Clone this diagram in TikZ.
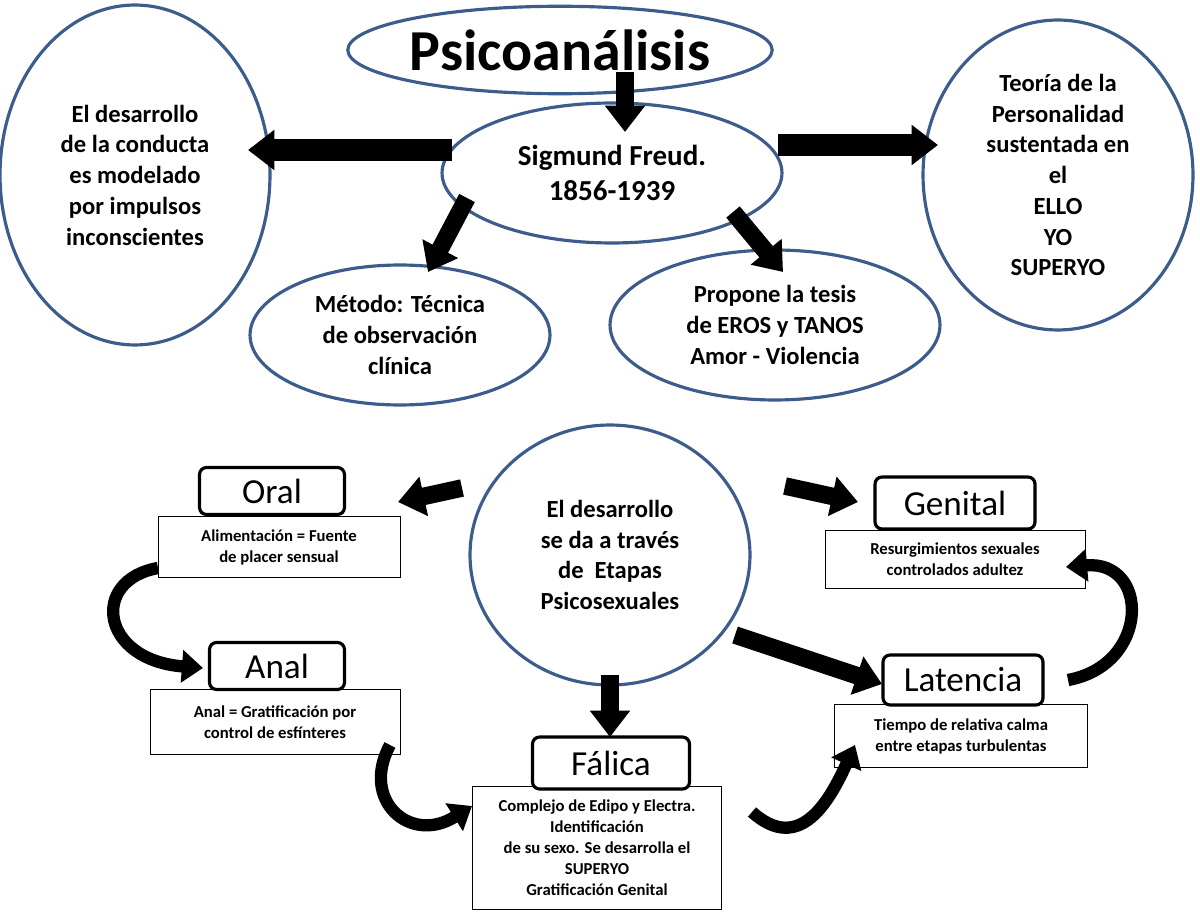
\documentclass[tikz,border=0pt]{standalone}
\usepackage{fontspec}
\setmainfont{Carlito}
\usetikzlibrary{shapes.geometric,arrows.meta}
\definecolor{eb}{RGB}{60,92,140}
\begin{document}
\begin{tikzpicture}[x=0.02cm,y=-0.02cm,
 ell/.style={draw=eb,line width=1.8pt,ellipse,inner sep=0pt,align=center,font=\bfseries\fontsize{14}{17.5}\selectfont},
 ttl/.style={draw,rounded corners=4pt,line width=1.8pt,fill=white,inner sep=0pt,font=\fontsize{20}{22}\selectfont},
 dsc/.style={draw,line width=0.5pt,inner sep=0pt,align=center,font=\bfseries\fontsize{9.5}{12}\selectfont},
 big/.style={line width=10pt,-{Triangle[length=15pt,width=22pt]}},
 crv/.style={line width=7pt,-{Triangle[length=12pt,width=18pt]}}]
\useasboundingbox (0,0) rectangle (1200,915);
\node[ell,minimum width=7.5cm,minimum height=1.75cm,font=\bfseries\fontsize{33}{35}\selectfont] (psi) at (560,50) {Psicoanálisis};
\node[ell,minimum width=6.8cm,minimum height=2.8cm,font=\bfseries\fontsize{16.5}{19.5}\selectfont] (fr) at (612,173) {Sigmund Freud.\\1856-1939};
\node[ell,minimum width=5.4cm,minimum height=6.8cm] (l) at (135,175) {El desarrollo\\de la conducta\\es modelado\\por impulsos\\inconscientes};
\node[ell,minimum width=5.4cm,minimum height=6.2cm] (r) at (1058,175) {Teoría de la\\Personalidad\\sustentada en\\el\\ELLO\\YO\\SUPERYO};
\node[ell,minimum width=6.0cm,minimum height=2.8cm] (m) at (400,335) {Método: Técnica\\de observación\\clínica};
\node[ell,minimum width=6.6cm,minimum height=3.0cm] (p) at (775,325) {Propone la tesis\\de EROS y TANOS\\Amor - Violencia};
\node[ell,minimum width=5.6cm,minimum height=5.2cm] (c) at (610,555) {El desarrollo\\se da a través\\de\ \ Etapas\\Psicosexuales};
% boxes
\node[dsc,minimum width=4.84cm,minimum height=1.22cm] (od) at (279,547) {Alimentación = Fuente\\de placer sensual};
\node[ttl,minimum width=2.9cm,minimum height=0.94cm] (o) at (272,491) {Oral};
\node[dsc,minimum width=5.0cm,minimum height=1.3cm] (ad) at (275,722) {Anal = Gratificación por\\control de esfínteres};
\node[ttl,minimum width=2.7cm,minimum height=0.94cm] (a) at (277,666) {Anal};
\node[dsc,minimum width=4.98cm,minimum height=2.46cm] (fd) at (597,848) {Complejo de Edipo y Electra.\\Identificación\\de su sexo. Se desarrolla el\\SUPERYO\\Gratificación Genital};
\node[ttl,minimum width=3.14cm,minimum height=1.04cm] (f) at (611,763) {Fálica};
\node[dsc,minimum width=5.2cm,minimum height=1.16cm] (gd) at (955,559) {Resurgimientos sexuales\\controlados adultez};
\node[ttl,minimum width=3.2cm,minimum height=1.04cm] (g) at (955,503) {Genital};
\node[dsc,minimum width=5.06cm,minimum height=1.26cm] (ld) at (961,736) {Tiempo de relativa calma\\entre etapas turbulentas};
\node[ttl,minimum width=3.2cm,minimum height=1.0cm] (la) at (963,680) {Latencia};
% coordinates for arrows
\coordinate (a1) at (625,72); \coordinate (a2) at (625,132);
\coordinate (b1) at (452,150); \coordinate (b2) at (248,150);
\coordinate (c1) at (778,145); \coordinate (c2) at (938,145);
\coordinate (d1) at (467,198); \coordinate (d2) at (428,272);
\coordinate (e1) at (733,212); \coordinate (e2) at (783,272);
\coordinate (f1) at (462,488); \coordinate (f2) at (398,502);
\coordinate (g1) at (785,486); \coordinate (g2) at (858,502);
\coordinate (h1) at (735,635); \coordinate (h2) at (882,684);
\coordinate (i1) at (610,675); \coordinate (i2) at (610,737);
\draw[big] (a1)--(a2);
\draw[big,line width=12pt] (b1)--(b2);
\draw[big,line width=12pt] (c1)--(c2);
\draw[big] (d1)--(d2);
\draw[big] (e1)--(e2);
\draw[big] (f1)--(f2);
\draw[big] (g1)--(g2);
\draw[big] (h1)--(h2);
\draw[big] (i1)--(i2);
% curved arrows
\coordinate (k1) at (158,568); \coordinate (k2) at (203,668);
\coordinate (m1) at (390,745); \coordinate (m2) at (472,806);
\coordinate (n1) at (752,812); \coordinate (n2) at (855,745);
\coordinate (q1) at (1068,680); \coordinate (q2) at (1066,567);
\draw[crv] (k1) .. controls (90,580) and (100,660) .. (k2);
\draw[crv] (m1) .. controls (360,800) and (410,845) .. (m2);
\draw[crv] (n1) .. controls (800,855) and (830,800) .. (n2);
\draw[crv] (q1) .. controls (1150,665) and (1150,560) .. (q2);
\end{tikzpicture}
\end{document}
